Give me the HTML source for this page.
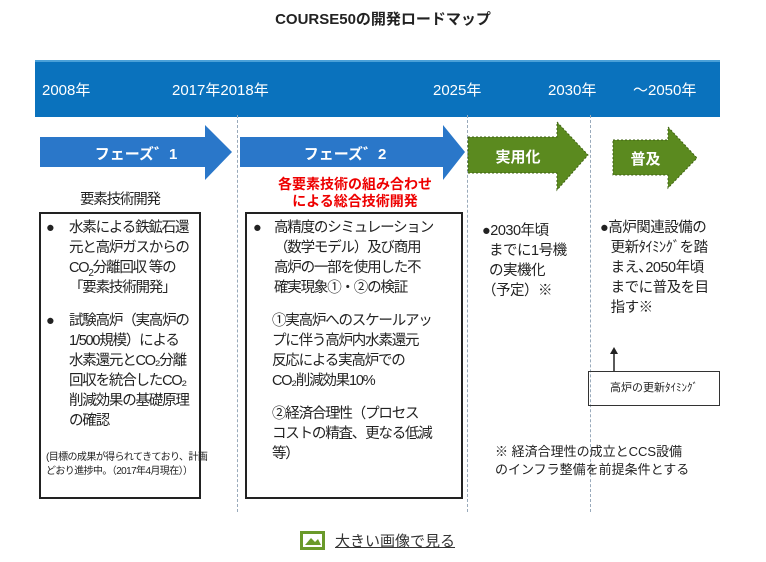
<!DOCTYPE html>
<html><head><meta charset="utf-8"><style>
body{margin:0;width:766px;height:562px;background:#fff;font-family:"Liberation Sans","Noto Sans CJK JP",sans-serif;position:relative;overflow:hidden;color:#222}
.a{position:absolute;white-space:nowrap}
.t{font-size:14.5px;line-height:20px;letter-spacing:-1.2px}
.yr{color:#fff;font-size:15px;top:79px}
.vl{position:absolute;top:115px;height:397px;border-left:1px dashed #9ab}
.box{position:absolute;border:2px solid #222;box-sizing:border-box}
</style></head><body>
<div class="a" style="left:0;width:766px;text-align:center;top:8px;font-size:15px;font-weight:bold">COURSE50の開発ロードマップ</div>
<div class="a" style="left:35px;top:60px;width:685px;height:55px;background:#0a72bd;border-top:2px solid #4aa0d8"></div>
<div class="a yr" style="left:42px">2008年</div>
<div class="a yr" style="left:172px">2017年2018年</div>
<div class="a yr" style="left:433px">2025年</div>
<div class="a yr" style="left:548px">2030年</div>
<div class="a yr" style="left:633px">～2050年</div>
<div class="vl" style="left:237px"></div>
<div class="vl" style="left:467px"></div>
<div class="vl" style="left:590px"></div>
<svg class="a" style="left:0;top:0" width="766" height="562">
<polygon points="40,137 205,137 205,125 232,152 205,180 205,167 40,167" fill="#2a77c9"/>
<polygon points="240,137 443,137 443,125 465,152 443,180 443,167 240,167" fill="#2a77c9"/>
<polygon points="468,137 557,137 557,122 588,155 557,190 557,173 468,173" fill="#5b8a1f" stroke="#3d6010" stroke-dasharray="2,2"/>
<polygon points="613,140 668,140 668,127 697,158 668,188 668,175 613,175" fill="#5b8a1f" stroke="#3d6010" stroke-dasharray="2,2"/>
<line x1="614" y1="372" x2="614" y2="350" stroke="#222" stroke-width="1.5"/>
<polygon points="610,354 614,347 618,354" fill="#222"/>
<rect x="300" y="531" width="25" height="19" fill="#6a9a2a"/><rect x="303" y="534" width="19" height="13" fill="#fff"/>
<polygon points="305,545 311,538 315,542 318,539 321,545" fill="#6a9a2a"/>
</svg>
<div class="a" style="left:40px;width:192px;text-align:center;top:143px;color:#fff;font-weight:bold;font-size:15px">フェーズ゛1</div>
<div class="a" style="left:240px;width:210px;text-align:center;top:143px;color:#fff;font-weight:bold;font-size:15px">フェーズ゛2</div>
<div class="a" style="left:468px;width:100px;text-align:center;top:146px;color:#fff;font-weight:bold;font-size:15px">実用化</div>
<div class="a" style="left:613px;width:65px;text-align:center;top:148px;color:#fff;font-weight:bold;font-size:15px">普及</div>
<div class="a t" style="left:80px;top:190px">要素技術開発</div>
<div class="a" style="left:240px;width:230px;text-align:center;top:176px;color:#e00;font-weight:bold;font-size:14px;line-height:17px">各要素技術の組み合わせ<br>による総合技術開発</div>
<div class="box" style="left:39px;top:212px;width:162px;height:287px"></div>
<div class="a t" style="left:46px;top:218px">●</div>
<div class="a t" style="left:69px;top:218px">水素による鉄鉱石還<br>元と高炉ガスからの<br>CO<sub style="font-size:10px;line-height:0">2</sub>分離回収 等の<br>「要素技術開発」</div>
<div class="a t" style="left:46px;top:311px">●</div>
<div class="a t" style="left:69px;top:311px">試験高炉（実高炉の<br>1/500規模）による<br>水素還元とCO₂分離<br>回収を統合したCO₂<br>削減効果の基礎原理<br>の確認</div>
<div class="a" style="left:46px;top:451px;font-size:10px;line-height:14px;letter-spacing:-0.6px">(目標の成果が得られてきており、計画<br>どおり進捗中。（2017年4月現在））</div>
<div class="box" style="left:245px;top:212px;width:218px;height:287px"></div>
<div class="a t" style="left:253px;top:218px">●</div>
<div class="a t" style="left:274px;top:218px">高精度のシミュレーション<br>（数学モデル）及び商用<br>高炉の一部を使用した不<br>確実現象①・②の検証</div>
<div class="a t" style="left:272px;top:311px">①実高炉へのスケールアッ<br>プに伴う高炉内水素還元<br>反応による実高炉での<br>CO₂削減効果10%</div>
<div class="a t" style="left:272px;top:404px">②経済合理性（プロセス<br>コストの精査、更なる低減<br>等）</div>
<div class="a t" style="left:482px;top:221px;letter-spacing:-0.5px">●2030年頃<br>&nbsp;&nbsp;までに1号機<br>&nbsp;&nbsp;の実機化<br>（予定）※</div>
<div class="a t" style="left:600px;top:218px;letter-spacing:-0.5px">●高炉関連設備の<br>&nbsp;&nbsp;&nbsp;更新ﾀｲﾐﾝｸﾞを踏<br>&nbsp;&nbsp;&nbsp;まえ､2050年頃<br>&nbsp;&nbsp;&nbsp;までに普及を目<br>&nbsp;&nbsp;&nbsp;指す※</div>
<div class="a" style="left:588px;top:371px;width:132px;height:35px;border:1.5px solid #333;box-sizing:border-box;font-size:11px;line-height:32px;text-align:center">高炉の更新ﾀｲﾐﾝｸﾞ</div>
<div class="a" style="left:495px;top:443px;font-size:13px;line-height:18px">※ 経済合理性の成立とCCS設備<br>のインフラ整備を前提条件とする</div>
<div class="a" style="left:335px;top:530px;font-size:15px;text-decoration:underline;color:#333">大きい画像で見る</div>
</body></html>
